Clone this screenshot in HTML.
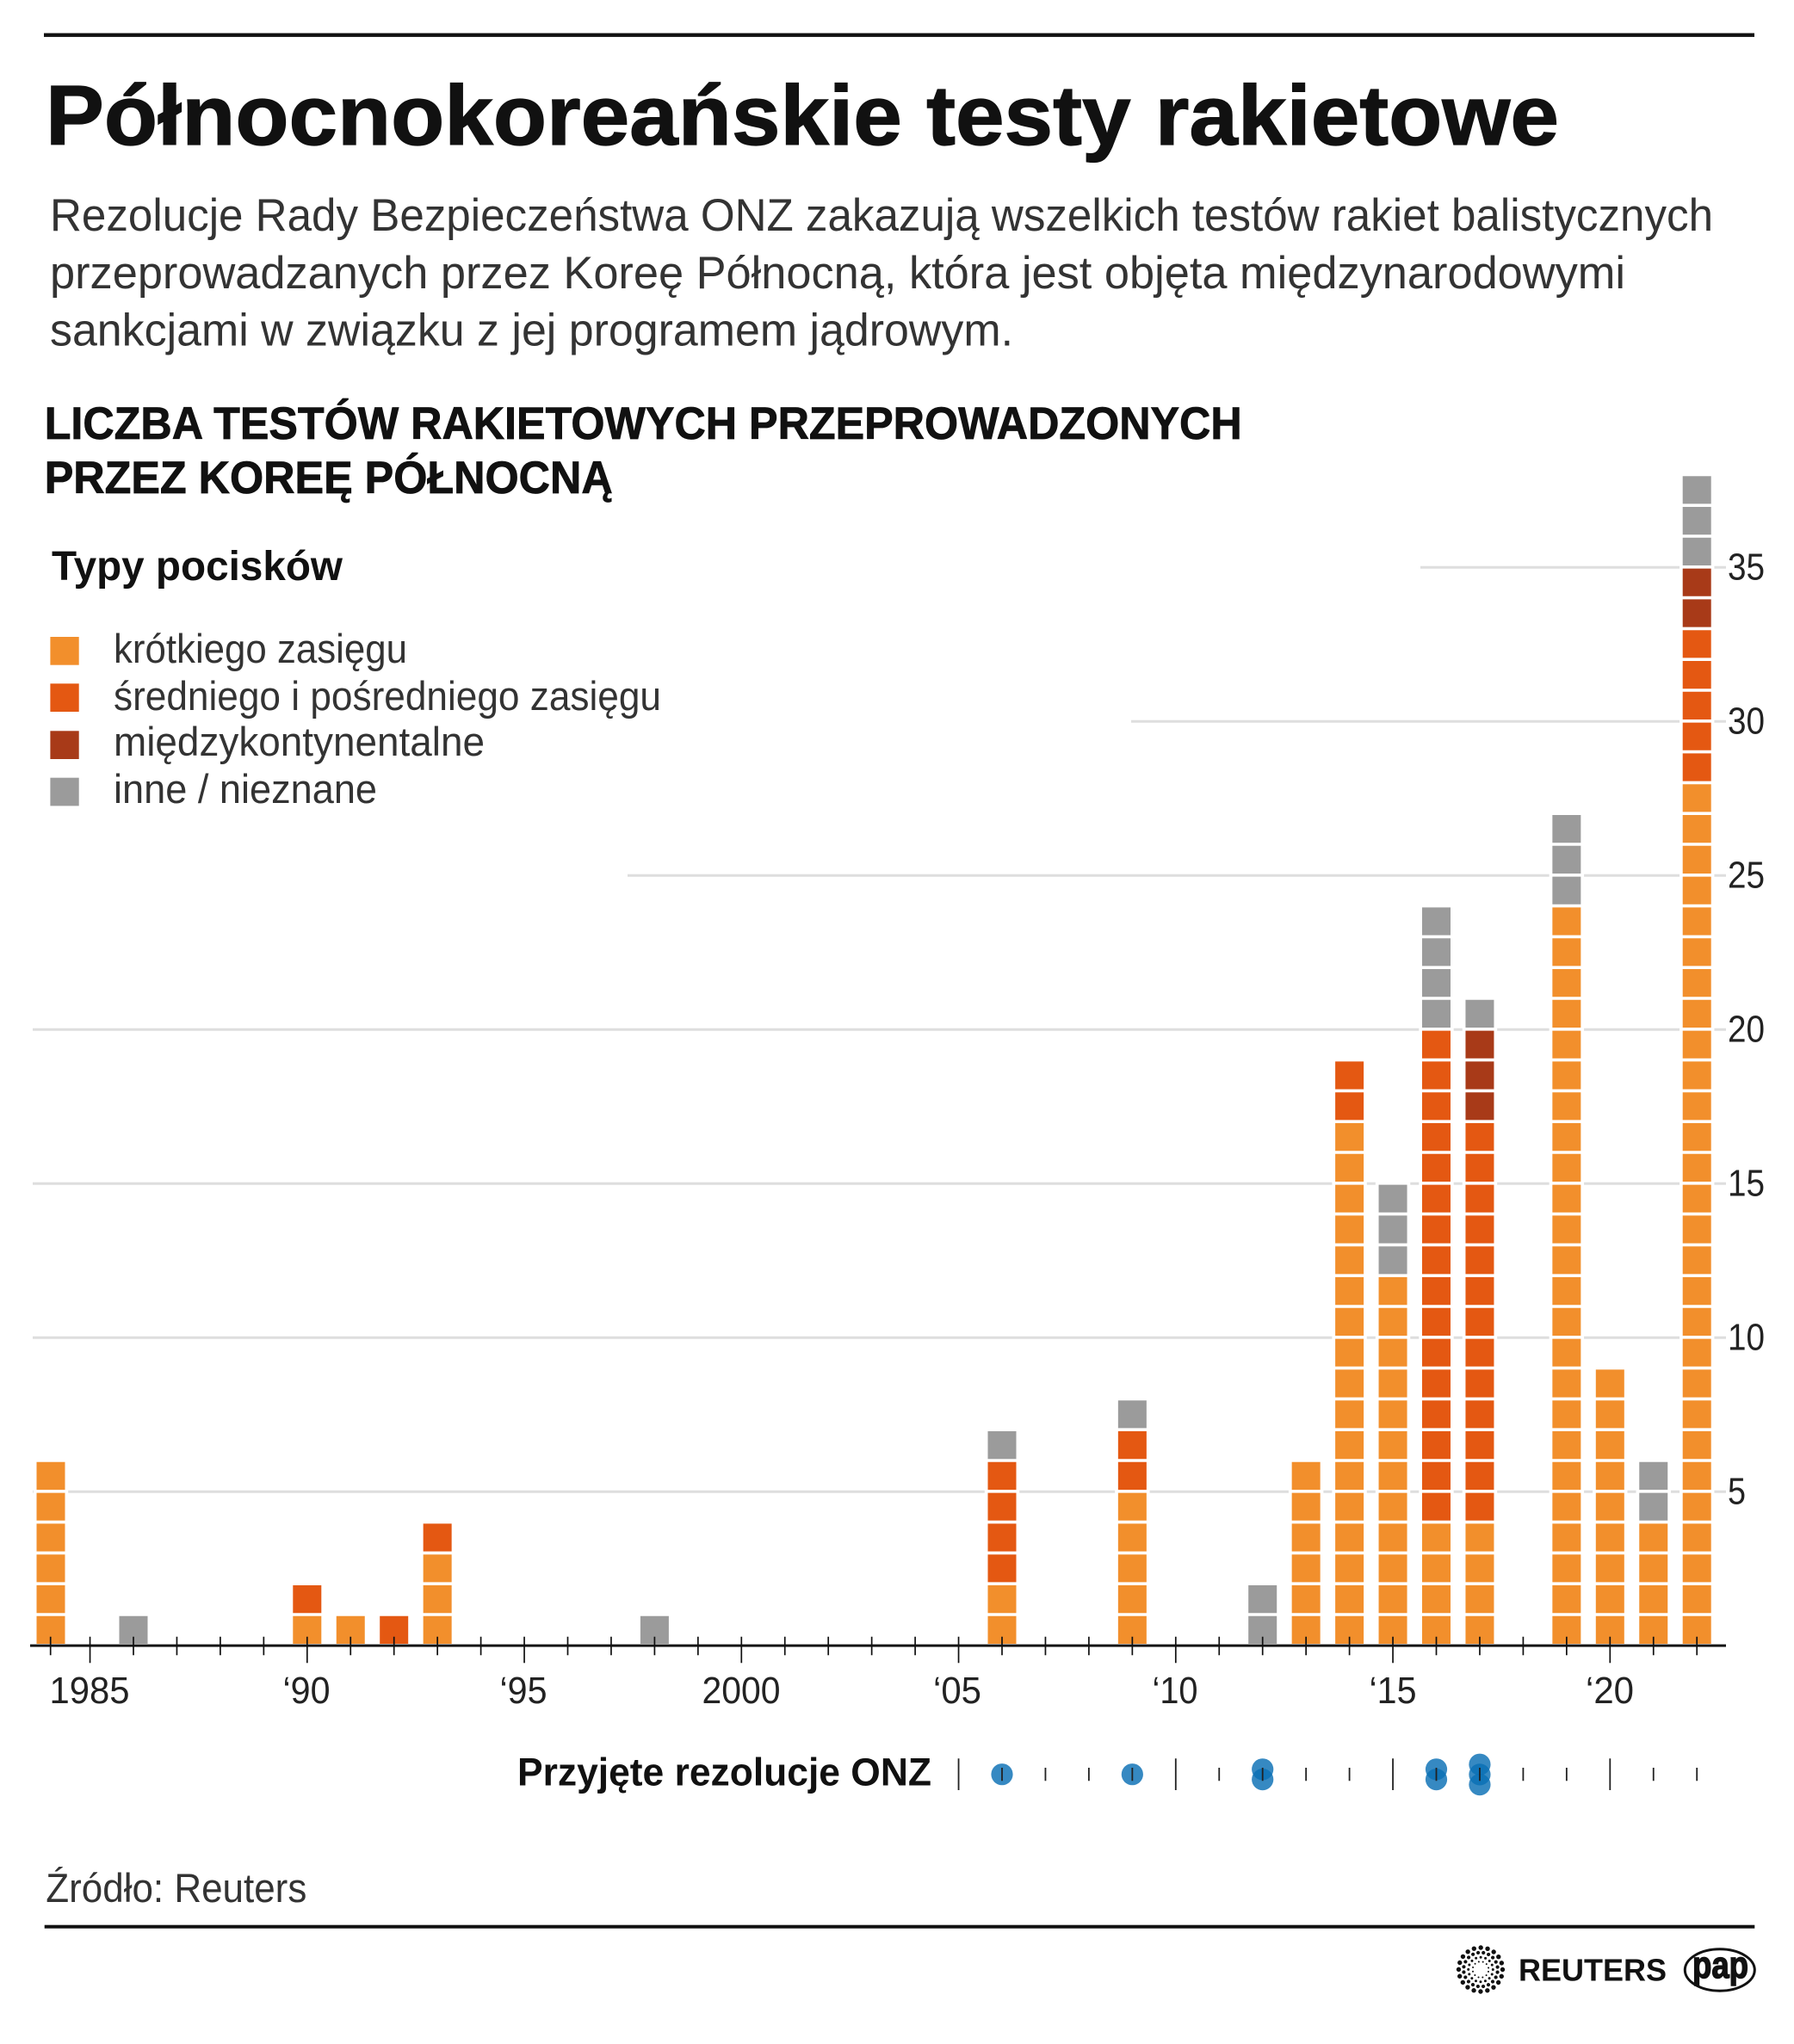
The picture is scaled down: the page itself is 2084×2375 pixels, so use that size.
<!DOCTYPE html>
<html lang="pl">
<head>
<meta charset="utf-8">
<style>
  html,body{margin:0;padding:0;background:#fff;}
  svg{display:block;}
  text{font-family:"Liberation Sans", sans-serif;}
</style>
</head>
<body>
<svg xmlns="http://www.w3.org/2000/svg" width="2084" height="2375" viewBox="0 0 2084 2375">
  <rect x="0" y="0" width="2084" height="2375" fill="#ffffff"/>

  <!-- top rule -->
  <rect x="51" y="38.5" width="1987" height="4.4" fill="#111"/>

  <!-- Title -->
  <text x="53" y="168" font-size="98" font-weight="bold" fill="#111" stroke="#111" stroke-width="1.2" textLength="1758" lengthAdjust="spacingAndGlyphs">Północnokoreańskie testy rakietowe</text>

  <!-- Subtitle -->
  <g font-size="53" fill="#333">
    <text x="58" y="268" textLength="1932" lengthAdjust="spacingAndGlyphs">Rezolucje Rady Bezpieczeństwa ONZ zakazują wszelkich testów rakiet balistycznych</text>
    <text x="58" y="335" textLength="1830" lengthAdjust="spacingAndGlyphs">przeprowadzanych przez Koreę Północną, która jest objęta międzynarodowymi</text>
    <text x="58" y="401.5" textLength="1119" lengthAdjust="spacingAndGlyphs">sankcjami w związku z jej programem jądrowym.</text>
  </g>

  <!-- Chart title -->
  <g font-size="53" font-weight="bold" fill="#111" stroke="#111" stroke-width="0.8">
    <text x="51.7" y="510" textLength="1391" lengthAdjust="spacingAndGlyphs">LICZBA TESTÓW RAKIETOWYCH PRZEPROWADZONYCH</text>
    <text x="51.7" y="573" textLength="660" lengthAdjust="spacingAndGlyphs">PRZEZ KOREĘ PÓŁNOCNĄ</text>
  </g>

  <!-- Legend -->
  <text x="60" y="674" font-size="48" font-weight="bold" fill="#111" textLength="338" lengthAdjust="spacingAndGlyphs">Typy pocisków</text>
  <rect x="58.4" y="740" width="33.3" height="32.7" fill="#F28F2C"/>
  <rect x="58.4" y="794.3" width="33.3" height="32.7" fill="#E45812"/>
  <rect x="58.4" y="849.3" width="33.3" height="32.7" fill="#A83A18"/>
  <rect x="58.4" y="903.7" width="33.3" height="32.7" fill="#9B9B9B"/>
  <g font-size="47" fill="#333">
    <text x="132" y="770" textLength="341" lengthAdjust="spacingAndGlyphs">krótkiego zasięgu</text>
    <text x="132" y="825" textLength="636" lengthAdjust="spacingAndGlyphs">średniego i pośredniego zasięgu</text>
    <text x="132" y="878" textLength="431" lengthAdjust="spacingAndGlyphs">międzykontynentalne</text>
    <text x="132" y="933" textLength="306" lengthAdjust="spacingAndGlyphs">inne / nieznane</text>
  </g>

  <!-- Gridlines -->
  <g stroke="#dedede" stroke-width="3">
    <line x1="38" y1="1733.3" x2="2005" y2="1733.3"/>
    <line x1="38" y1="1554.3" x2="2005" y2="1554.3"/>
    <line x1="38" y1="1375.3" x2="2005" y2="1375.3"/>
    <line x1="38" y1="1196.3" x2="2005" y2="1196.3"/>
    <line x1="729" y1="1017.3" x2="2005" y2="1017.3"/>
    <line x1="1314" y1="838.3" x2="2005" y2="838.3"/>
    <line x1="1650" y1="659.3" x2="2005" y2="659.3"/>
  </g>

  <!-- Y labels -->
  <g font-size="44" fill="#222">
    <text x="2007" y="1747.6" textLength="21" lengthAdjust="spacingAndGlyphs">5</text>
    <text x="2007" y="1568.6" textLength="43" lengthAdjust="spacingAndGlyphs">10</text>
    <text x="2007" y="1389.6" textLength="43" lengthAdjust="spacingAndGlyphs">15</text>
    <text x="2007" y="1210.6" textLength="43" lengthAdjust="spacingAndGlyphs">20</text>
    <text x="2007" y="1031.6" textLength="43" lengthAdjust="spacingAndGlyphs">25</text>
    <text x="2007" y="852.6" textLength="43" lengthAdjust="spacingAndGlyphs">30</text>
    <text x="2007" y="673.6" textLength="43" lengthAdjust="spacingAndGlyphs">35</text>
  </g>

  <!-- White backgrounds behind bars -->
  <g fill="#ffffff">
    <rect x="38.8" y="1695.8" width="40.4" height="215"/>
    <rect x="134.8" y="1874.8" width="40.4" height="36"/>
    <rect x="336.6" y="1839" width="40.4" height="72"/>
    <rect x="387.05" y="1874.8" width="40.4" height="36"/>
    <rect x="437.5" y="1874.8" width="40.4" height="36"/>
    <rect x="487.95" y="1767.4" width="40.4" height="144"/>
    <rect x="740.2" y="1874.8" width="40.4" height="36"/>
    <rect x="1143.8" y="1660" width="40.4" height="251"/>
    <rect x="1295.15" y="1624.2" width="40.4" height="287"/>
    <rect x="1446.5" y="1839" width="40.4" height="72"/>
    <rect x="1496.95" y="1695.8" width="40.4" height="215"/>
    <rect x="1547.4" y="1230.4" width="40.4" height="681"/>
    <rect x="1597.85" y="1373.6" width="40.4" height="538"/>
    <rect x="1648.3" y="1051.4" width="40.4" height="860"/>
    <rect x="1698.75" y="1158.8" width="40.4" height="752"/>
    <rect x="1799.65" y="944" width="40.4" height="967"/>
    <rect x="1850.1" y="1588.4" width="40.4" height="323"/>
    <rect x="1900.55" y="1695.8" width="40.4" height="215"/>
    <rect x="1951" y="550.2" width="40.4" height="1361"/>
  </g>

  <!-- Bars: dashed thick lines, each dash = one test -->
  <g stroke-width="33" stroke-dasharray="32.2 3.6" fill="none">
    <line x1="59" y1="1910" x2="59" y2="1698.8" stroke="#F28F2C"/>
    <line x1="155" y1="1910" x2="155" y2="1877.8" stroke="#9B9B9B"/>
    <line x1="356.8" y1="1910" x2="356.8" y2="1877.8" stroke="#F28F2C"/>
    <line x1="356.8" y1="1874.2" x2="356.8" y2="1842.0" stroke="#E45812"/>
    <line x1="407.25" y1="1910" x2="407.25" y2="1877.8" stroke="#F28F2C"/>
    <line x1="457.7" y1="1910" x2="457.7" y2="1877.8" stroke="#E45812"/>
    <line x1="508.15" y1="1910" x2="508.15" y2="1806.2" stroke="#F28F2C"/>
    <line x1="508.15" y1="1802.6" x2="508.15" y2="1770.4" stroke="#E45812"/>
    <line x1="760.4" y1="1910" x2="760.4" y2="1877.8" stroke="#9B9B9B"/>
    <line x1="1164" y1="1910" x2="1164" y2="1842.0" stroke="#F28F2C"/>
    <line x1="1164" y1="1838.4" x2="1164" y2="1698.8" stroke="#E45812"/>
    <line x1="1164" y1="1695.2" x2="1164" y2="1663.0" stroke="#9B9B9B"/>
    <line x1="1315.35" y1="1910" x2="1315.35" y2="1734.6" stroke="#F28F2C"/>
    <line x1="1315.35" y1="1731.0" x2="1315.35" y2="1663.0" stroke="#E45812"/>
    <line x1="1315.35" y1="1659.4" x2="1315.35" y2="1627.2" stroke="#9B9B9B"/>
    <line x1="1466.7" y1="1910" x2="1466.7" y2="1842.0" stroke="#9B9B9B"/>
    <line x1="1517.15" y1="1910" x2="1517.15" y2="1698.8" stroke="#F28F2C"/>
    <line x1="1567.6" y1="1910" x2="1567.6" y2="1305.0" stroke="#F28F2C"/>
    <line x1="1567.6" y1="1301.4" x2="1567.6" y2="1233.4" stroke="#E45812"/>
    <line x1="1618.05" y1="1910" x2="1618.05" y2="1484.0" stroke="#F28F2C"/>
    <line x1="1618.05" y1="1480.4" x2="1618.05" y2="1376.6" stroke="#9B9B9B"/>
    <line x1="1668.5" y1="1910" x2="1668.5" y2="1770.4" stroke="#F28F2C"/>
    <line x1="1668.5" y1="1766.8" x2="1668.5" y2="1197.6" stroke="#E45812"/>
    <line x1="1668.5" y1="1194.0" x2="1668.5" y2="1054.4" stroke="#9B9B9B"/>
    <line x1="1718.95" y1="1910" x2="1718.95" y2="1770.4" stroke="#F28F2C"/>
    <line x1="1718.95" y1="1766.8" x2="1718.95" y2="1305.0" stroke="#E45812"/>
    <line x1="1718.95" y1="1301.4" x2="1718.95" y2="1197.6" stroke="#A83A18"/>
    <line x1="1718.95" y1="1194.0" x2="1718.95" y2="1161.8" stroke="#9B9B9B"/>
    <line x1="1819.85" y1="1910" x2="1819.85" y2="1054.4" stroke="#F28F2C"/>
    <line x1="1819.85" y1="1050.8" x2="1819.85" y2="947.0" stroke="#9B9B9B"/>
    <line x1="1870.3" y1="1910" x2="1870.3" y2="1591.4" stroke="#F28F2C"/>
    <line x1="1920.75" y1="1910" x2="1920.75" y2="1770.4" stroke="#F28F2C"/>
    <line x1="1920.75" y1="1766.8" x2="1920.75" y2="1698.8" stroke="#9B9B9B"/>
    <line x1="1971.2" y1="1910" x2="1971.2" y2="911.2" stroke="#F28F2C"/>
    <line x1="1971.2" y1="907.6" x2="1971.2" y2="732.2" stroke="#E45812"/>
    <line x1="1971.2" y1="728.6" x2="1971.2" y2="660.6" stroke="#A83A18"/>
    <line x1="1971.2" y1="657.0" x2="1971.2" y2="553.2" stroke="#9B9B9B"/>
  </g>

  <!-- X axis -->
  <rect x="35" y="1910.6" width="1970" height="3" fill="#151515"/>
  <path stroke="#111" stroke-width="1.7" fill="none" d="
    M58.7 1901.7V1923.3 M155 1901.7V1923.3 M205.45 1901.7V1923.3 M255.9 1901.7V1923.3 M306.35 1901.7V1923.3
    M407.25 1901.7V1923.3 M457.7 1901.7V1923.3 M508.15 1901.7V1923.3 M558.6 1901.7V1923.3
    M659.5 1901.7V1923.3 M709.95 1901.7V1923.3 M760.4 1901.7V1923.3 M810.85 1901.7V1923.3
    M911.75 1901.7V1923.3 M962.2 1901.7V1923.3 M1012.65 1901.7V1923.3 M1063.1 1901.7V1923.3
    M1164 1901.7V1923.3 M1214.45 1901.7V1923.3 M1264.9 1901.7V1923.3 M1315.35 1901.7V1923.3
    M1416.25 1901.7V1923.3 M1466.7 1901.7V1923.3 M1517.15 1901.7V1923.3 M1567.6 1901.7V1923.3
    M1668.5 1901.7V1923.3 M1718.95 1901.7V1923.3 M1769.4 1901.7V1923.3 M1819.85 1901.7V1923.3
    M1920.75 1901.7V1923.3 M1971.2 1901.7V1923.3
    M104.55 1901.7V1932.3 M356.8 1901.7V1932.3 M609.05 1901.7V1932.3 M861.3 1901.7V1932.3
    M1113.55 1901.7V1932.3 M1365.8 1901.7V1932.3 M1618.05 1901.7V1932.3 M1870.3 1901.7V1932.3"/>

  <!-- X labels -->
  <g font-size="44" fill="#222" text-anchor="middle">
    <text x="104" y="1979" textLength="93" lengthAdjust="spacingAndGlyphs">1985</text>
    <text x="356" y="1979" textLength="55" lengthAdjust="spacingAndGlyphs">‘90</text>
    <text x="608" y="1979" textLength="55" lengthAdjust="spacingAndGlyphs">‘95</text>
    <text x="861" y="1979" textLength="91" lengthAdjust="spacingAndGlyphs">2000</text>
    <text x="1112" y="1979" textLength="56" lengthAdjust="spacingAndGlyphs">‘05</text>
    <text x="1365" y="1979" textLength="53" lengthAdjust="spacingAndGlyphs">‘10</text>
    <text x="1618" y="1979" textLength="55" lengthAdjust="spacingAndGlyphs">‘15</text>
    <text x="1870" y="1979" textLength="56" lengthAdjust="spacingAndGlyphs">‘20</text>
  </g>

  <!-- Resolutions row -->
  <text x="601" y="2074.3" font-size="45" font-weight="bold" fill="#111" textLength="481" lengthAdjust="spacingAndGlyphs">Przyjęte rezolucje ONZ</text>
  <g fill="#0a6fb5" fill-opacity="0.82">
    <circle cx="1164" cy="2061.7" r="12.6"/>
    <circle cx="1315.35" cy="2061.7" r="12.6"/>
    <circle cx="1466.7" cy="2055.8" r="12.6"/>
    <circle cx="1466.7" cy="2067.6" r="12.6"/>
    <circle cx="1668.5" cy="2055.8" r="12.6"/>
    <circle cx="1668.5" cy="2067.6" r="12.6"/>
    <circle cx="1718.95" cy="2050.2" r="12.6"/>
    <circle cx="1718.95" cy="2061.9" r="12.6"/>
    <circle cx="1718.95" cy="2073.6" r="12.6"/>
  </g>
  <path stroke="#222" stroke-width="1.8" fill="none" d="
    M1113.55 2043.3V2080 M1365.8 2043.3V2080 M1618.05 2043.3V2080 M1870.3 2043.3V2080
    M1164 2054V2069.3 M1214.45 2054V2069.3 M1264.9 2054V2069.3 M1315.35 2054V2069.3
    M1416.25 2054V2069.3 M1466.7 2054V2069.3 M1517.15 2054V2069.3 M1567.6 2054V2069.3
    M1668.5 2054V2069.3 M1718.95 2054V2069.3 M1769.4 2054V2069.3 M1819.85 2054V2069.3
    M1920.75 2054V2069.3 M1971.2 2054V2069.3"/>

  <!-- Source -->
  <text x="53.3" y="2210" font-size="47" fill="#333" textLength="303" lengthAdjust="spacingAndGlyphs">Źródło: Reuters</text>

  <!-- bottom rule -->
  <rect x="51.7" y="2236.7" width="1986.6" height="4" fill="#111"/>

  <!-- Reuters logo -->
  <g fill="none" stroke="#111" stroke-linecap="round">
    <circle cx="1720" cy="2288.5" r="25.5" stroke-width="5.4" stroke-dasharray="0 8.011"/>
    <circle cx="1720" cy="2288.5" r="19.8" stroke-width="4.2" stroke-dasharray="0 6.22" transform="rotate(9 1720 2288.5)"/>
    <circle cx="1720" cy="2288.5" r="14.3" stroke-width="3.0" stroke-dasharray="0 5.616"/>
    <circle cx="1720" cy="2288.5" r="9.3" stroke-width="2.0" stroke-dasharray="0 4.87" transform="rotate(15 1720 2288.5)"/>
  </g>
  <text x="1764" y="2301.7" font-size="36" font-weight="bold" fill="#111" textLength="172" lengthAdjust="spacingAndGlyphs">REUTERS</text>

  <!-- PAP logo -->
  <ellipse cx="1997.8" cy="2289" rx="40.5" ry="24.2" fill="none" stroke="#111" stroke-width="3"/>
  <text x="1966" y="2298" font-size="44" font-weight="bold" fill="#111" stroke="#111" stroke-width="1.5" textLength="65" lengthAdjust="spacingAndGlyphs">pap</text>
</svg>
</body>
</html>
